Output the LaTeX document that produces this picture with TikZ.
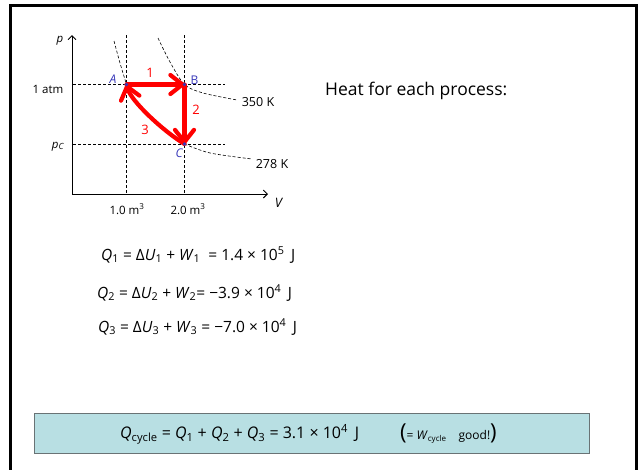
\documentclass[tikz,border=0pt]{standalone}
\usepackage{fontspec}
\setmainfont{Open Sans}
\usetikzlibrary{arrows.meta}
\definecolor{redc}{RGB}{255,0,0}
\definecolor{bluec}{RGB}{55,55,185}
\definecolor{boxfill}{RGB}{184,223,227}
\definecolor{boxline}{RGB}{105,115,117}
\newcommand\iv[1]{\textit{#1}}
\newcommand\sbs[1]{\textsubscript{#1}}
\newcommand\sps[1]{\textsuperscript{#1}}
\begin{document}
\begin{tikzpicture}[x=1pt,y=-1pt,
  guide/.style={dash pattern=on 3pt off 2pt, line width=0.6pt},
  axis/.style={line width=0.9pt, -{Straight Barb[length=4pt,width=8pt]}},
  proc/.style={redc, line width=4.2pt, line cap=round, line join=round,
     -{Straight Barb[length=12pt,width=19pt,round]}},
  lbl/.style={inner sep=0pt, font=\fontsize{11.5}{13}\selectfont},
  num/.style={inner sep=0pt, text=redc, font=\fontsize{13}{15}\selectfont},
  pt/.style={inner sep=0pt, text=bluec, font=\fontsize{12}{14}\selectfont},
  eq/.style={inner sep=0pt, anchor=west, font=\fontsize{15.5}{18}\selectfont}]
\useasboundingbox (0,0) rectangle (639,469);
\clip (0,0) rectangle (639,469);
% frame
\draw[line width=3pt] (10,5.5) rectangle (636,490);
% axes
\coordinate (O) at (72,194);
\coordinate (Ytop) at (72,35);
\coordinate (Xend) at (268,194);
\draw[axis] (O) -- (Ytop);
\draw[axis] (O) -- (Xend);
% states
\coordinate (A) at (126.5,84.5);
\coordinate (B) at (184.5,84.5);
\coordinate (C) at (184.5,144);
% guide lines
\coordinate (h1s) at (73,84.5);  \coordinate (h1e) at (225,84.5);
\coordinate (h2s) at (73,144);   \coordinate (h2e) at (225,144);
\coordinate (v1s) at (126.5,35); \coordinate (v1e) at (126.5,194);
\coordinate (v2s) at (184.5,35); \coordinate (v2e) at (184.5,194);
\draw[guide] (h1s) -- (h1e);
\draw[guide] (h2s) -- (h2e);
\draw[guide] (v1s) -- (v1e);
\draw[guide] (v2s) -- (v2e);
% isotherms
\draw[guide] plot[smooth] coordinates {(158,38) (170,62) (184.5,84.5) (203,93) (237,100)};
\draw[guide] plot[smooth] coordinates {(114,41) (120,63) (126.5,84.5)};
\draw[guide] plot[smooth] coordinates {(184.5,144) (210,153) (252,159)};
% processes
\draw[proc] (A) -- (B);
\draw[proc] (B) -- (C);
\draw[proc] (C) .. controls (163,131) and (131,101) .. (A);
\foreach \p in {A,B,C} \fill[bluec] (\p) circle (1.8pt);
% labels
\node[num] (n1) at (150,72.5) {1};
\node[num] (n2) at (196,110) {2};
\node[num] (n3) at (145,130) {3};
\node[pt] (lA) at (113,79) {\iv{A}};
\node[pt] (lB) at (194.5,80) {B};
\node[pt] (lC) at (179.5,153) {\iv{C}};
\node[lbl] (lp) at (60,41) {\iv{p}};
\node[lbl] (latm) at (48,89) {1 atm};
\node[lbl] (lpc) at (58,147) {\iv{p}\raisebox{-1pt}{\fontsize{8.5}{9}\selectfont\iv{C}}};
\node[lbl, font=\fontsize{12.5}{14}\selectfont] (l350) at (258,102) {350 K};
\node[lbl, font=\fontsize{12.5}{14}\selectfont] (l278) at (272,164) {278 K};
\node[lbl] (lv1) at (127,209) {1.0 m\sps{3}};
\node[lbl] (lv2) at (188,209) {2.0 m\sps{3}};
\node[lbl, font=\fontsize{13}{15}\selectfont] (lV) at (279,203) {\iv{V}};
% title
\node[inner sep=0pt, anchor=west, font=\fontsize{17.5}{20}\selectfont] (title) at (325,91) {Heat for each process:};
% equations
\node[eq] (e1) at (101,255) {\iv{Q}\sbs{1} = Δ\iv{U}\sbs{1} + \iv{W}\sbs{1} \ = 1.4 × 10\sps{5}\, J};
\node[eq] (e2) at (97,293) {\iv{Q}\sbs{2} = Δ\iv{U}\sbs{2} + \iv{W}\sbs{2}= −3.9 × 10\sps{4}\, J};
\node[eq] (e3) at (98,327) {\iv{Q}\sbs{3} = Δ\iv{U}\sbs{3} + \iv{W}\sbs{3} = −7.0 × 10\sps{4}\, J};
% result box
\node[draw=boxline, line width=1.5pt, fill=boxfill, minimum width=555pt, minimum height=40pt,
      inner sep=0pt] (res) at (312,433.5) {};
\node[eq, font=\fontsize{16}{18}\selectfont] (r1) at (120,434) {\iv{Q}\sbs{cycle} = \iv{Q}\sbs{1} + \iv{Q}\sbs{2} + \iv{Q}\sbs{3} = 3.1 × 10\sps{4}\, J};
\node[eq] (r2) at (400,434) {{\fontsize{22}{24}\selectfont(}{\fontsize{12}{14}\selectfont = \iv{W}\sbs{cycle}\quad good!}{\fontsize{22}{24}\selectfont)}};
\end{tikzpicture}
\end{document}
